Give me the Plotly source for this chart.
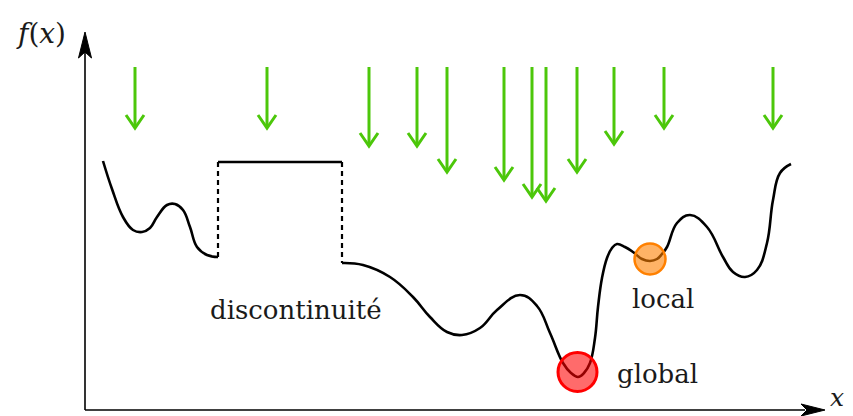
import plotly.graph_objects as go

# Coordinates: u = horizontal distance from the y axis, v = height above the x axis (pixels of the reference)
# Left smooth segment
seg1_x = [18, 27, 38, 48, 57, 65, 72, 82, 90, 98, 105, 112, 122, 133]
seg1_y = [249, 221, 193, 180, 178, 182, 193, 205, 206, 200, 183, 163, 155, 153]
# Plateau
seg2_x = [133, 257]
seg2_y = [248, 248]
# Right smooth segment
seg3_x = [257, 278, 305, 328, 345, 362, 377, 395, 412, 435, 452, 465, 478, 486, 493, 499, 505, 510,
          513, 517, 522, 527, 532, 540, 548, 557, 565, 572, 577, 582, 592, 605, 622, 638, 648, 660,
          672, 682, 688, 695, 706]
seg3_y = [147, 145, 133, 113, 93, 78, 75, 82, 100, 115, 104, 77, 47, 37, 33, 37, 47, 72,
          103, 132, 152, 162, 166, 163, 158, 151, 149, 151, 156, 163, 187, 195, 183, 153, 138, 133,
          140, 167, 210, 237, 246]
# Discontinuities (dashed)
jump1_x = [133, 133]
jump1_y = [153, 248]
jump2_x = [257, 257]
jump2_y = [248, 147]
# Green arrows: x, start height, tip height
arrow_x = [50, 182, 284, 332, 362, 419, 447, 461, 492, 529, 579, 688]
arrow_top = [343] * 12
arrow_tip = [282, 282, 264, 264, 238, 230, 213, 209, 238, 266, 282, 282]
# Minima
global_x, global_y = [492.5], [38]
local_x, local_y = [565], [151]
# Labels
labels = ["discontinuité", "local", "global"]
label_x = [211, 578, 572]
label_y = [100, 111, 36]

GREEN = "#4cc70a"
fig = go.Figure()

# axes
fig.add_trace(go.Scatter(x=[0, 0], y=[0, 360], mode="lines", line=dict(color="black", width=1.6), hoverinfo="skip"))
fig.add_trace(go.Scatter(x=[0, 720], y=[0, 0], mode="lines", line=dict(color="black", width=1.6), hoverinfo="skip"))
# axis arrowheads (stealth)
fig.add_trace(go.Scatter(x=[0, -6.5, 0, 6.5, 0], y=[378, 352, 358, 352, 378], fill="toself",
                         fillcolor="black", mode="lines", line=dict(color="black", width=1), hoverinfo="skip"))
fig.add_trace(go.Scatter(x=[740, 716, 722, 716, 740], y=[0, 6, 0, -6, 0], fill="toself",
                         fillcolor="black", mode="lines", line=dict(color="black", width=1), hoverinfo="skip"))

# curve
for xs, ys in [(seg1_x, seg1_y), (seg2_x, seg2_y), (seg3_x, seg3_y)]:
    fig.add_trace(go.Scatter(x=xs, y=ys, mode="lines", line=dict(color="black", width=2.6, shape="spline", smoothing=1.2),
                             hoverinfo="skip"))
for xs, ys in [(jump1_x, jump1_y), (jump2_x, jump2_y)]:
    fig.add_trace(go.Scatter(x=xs, y=ys, mode="lines", line=dict(color="black", width=2.2, dash="5px,4px"),
                             hoverinfo="skip"))

# green arrows
for ax, top, tip in zip(arrow_x, arrow_top, arrow_tip):
    fig.add_trace(go.Scatter(x=[ax, ax], y=[top, tip + 1], mode="lines", line=dict(color=GREEN, width=3), hoverinfo="skip"))
    fig.add_trace(go.Scatter(x=[ax - 9, ax, ax + 9], y=[tip + 13, tip, tip + 13], mode="lines",
                             line=dict(color=GREEN, width=3), hoverinfo="skip"))

# minima markers
fig.add_trace(go.Scatter(x=global_x, y=global_y, mode="markers",
                         marker=dict(size=39, color="rgba(255,0,0,0.58)", line=dict(color="#ff0000", width=3)),
                         hoverinfo="skip"))
fig.add_trace(go.Scatter(x=local_x, y=local_y, mode="markers",
                         marker=dict(size=31, color="rgba(255,128,0,0.6)", line=dict(color="#ff8000", width=2.5)),
                         hoverinfo="skip"))

SERIF = "DejaVu Serif"
for t, lx, ly in zip(labels, label_x, label_y):
    fig.add_annotation(x=lx, y=ly, text=t, showarrow=False, font=dict(family=SERIF, size=26, color="#1a1a1a"))
fig.add_annotation(x=-44, y=377, text="<i>f</i>(<i>x</i>)", showarrow=False, borderpad=0,
                   font=dict(family=SERIF, size=28, color="#1a1a1a"))
fig.add_annotation(x=752, y=13, text="<i>x</i>", showarrow=False, borderpad=0,
                   font=dict(family=SERIF, size=25, color="#1a1a1a"))

fig.update_layout(
    width=853, height=416, margin=dict(l=0, r=0, t=0, b=0),
    paper_bgcolor="white", plot_bgcolor="white", showlegend=False,
    font=dict(family=SERIF),
    xaxis=dict(range=[-85, 768], visible=False, fixedrange=True),
    yaxis=dict(range=[-6, 410], visible=False, fixedrange=True),
)
fig.write_html("out.html", config={"displayModeBar": False},
               post_script="document.body.style.margin='0';document.body.style.overflow='hidden';")
